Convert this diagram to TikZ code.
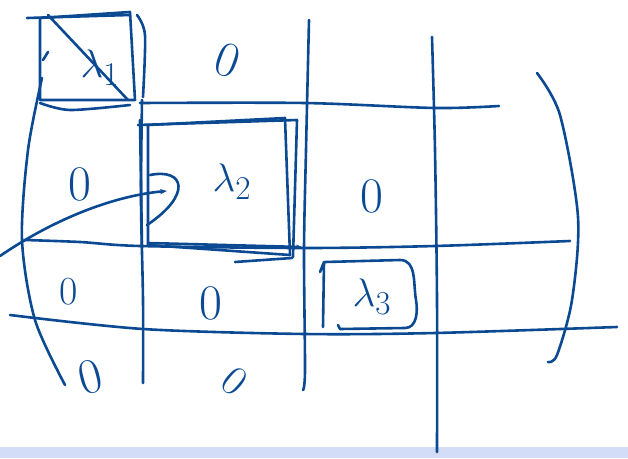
\documentclass[tikz,border=0pt]{standalone}
\usepackage{tikz}
\usetikzlibrary{arrows.meta, calc}
\definecolor{cInk}  {HTML}{0B4A92}
\definecolor{cStrip}{HTML}{D3DDF7}

\begin{document}
\begin{tikzpicture}[x=1pt, y=-1pt,
    ink/.style={cInk, line width=2.6pt, line cap=round, line join=round},
    entry/.style={text=cInk, font=\Huge, scale=2.0},
    lam/.style={text=cInk, font=\Huge, scale=1.6}]
  \useasboundingbox (0,0) rectangle (628,458);
  \fill[cStrip] (0,447) rectangle (628,458);
  % brackets
  \draw[ink] plot[smooth] coordinates {(42,78) (28,150) (22,240) (35,320) (65,385)};
  \draw[ink] plot[smooth] coordinates {(537,73) (560,115) (578,217) (572,300) (557,355) (548,362)};
  % grid
  \draw[ink] plot[smooth] coordinates {(142,100) (141,200) (143,300) (143,383)};
  \draw[ink] plot[smooth] coordinates {(309,20) (306,150) (304,250) (305,370) (303,390)};
  \draw[ink] plot[smooth] coordinates {(432,37) (435,150) (437,300) (437,452)};
  \draw[ink] plot[smooth] coordinates {(140,103) (305,103) (435,108) (499,106)};
  \draw[ink] plot[smooth] coordinates {(25,240) (80,242) (140,246) (305,248) (435,246) (570,241)};
  \draw[ink] plot[smooth] coordinates {(10,315) (143,329) (305,334) (435,333) (617,327)};
  % box lambda 1
  \draw[ink] (40,18) -- (130,12) -- (135,100) -- (40,100) -- cycle;
  \draw[ink] (27,18) -- (130,15);
  \draw[ink] plot[smooth] coordinates {(137,15) (145,35) (143,97)};
  \draw[ink] plot[smooth] coordinates {(40,103) (70,110) (130,105)};
  \draw[ink] (48,15) -- (128,100);
  \draw[ink] (43,60) -- (48,52);
  % box lambda 2
  \draw[ink] (148,125) -- (285,118) -- (290,255) -- (148,245) -- cycle;
  \draw[ink] (138,125) -- (297,120) -- (293,257);
  \draw[ink] (140,120) -- (142,248);
  \draw[ink] (235,262) -- (292,258);
  \draw[ink, -{Stealth[length=6pt]}] (148,243) -- (302,247);
  % box lambda 3
  \draw[ink] (320,272) -- (324,262) -- (323,327);
  \draw[ink] (325,262) -- (400,260) to[out=0, in=100] (416,300)
    to[out=-80, in=0] (405,328) -- (340,329) -- (338,325);
  % arrow
  \coordinate (arrS) at (0,256);
  \coordinate (arrE) at (167,191);
  \draw[ink, -{Stealth[length=7pt]}] (arrS) .. controls (60,215) and (120,195) .. (arrE);
  \draw[ink] (150,175) .. controls (185,168) and (192,195) .. (147,225);
  % labels
  \node[lam]   (l1) at (100,68)  {$\lambda_1$};
  \node[lam]   (l2) at (232,182) {$\lambda_2$};
  \node[lam]   (l3) at (372,297) {$\lambda_3$};
  \node[entry, rotate=-20] (z12) at (228,60)  {0};
  \node[entry] (z21) at (80,184)  {0};
  \node[entry] (z23) at (372,196) {0};
  \node[entry, scale=0.8] (z31) at (69,292) {0};
  \node[entry] (z32) at (211,303) {0};
  \node[entry, rotate=15] (z41) at (90,377) {0};
  \node[entry, rotate=-40, scale=0.85] (z42) at (235,381) {0};
\end{tikzpicture}
\end{document}
